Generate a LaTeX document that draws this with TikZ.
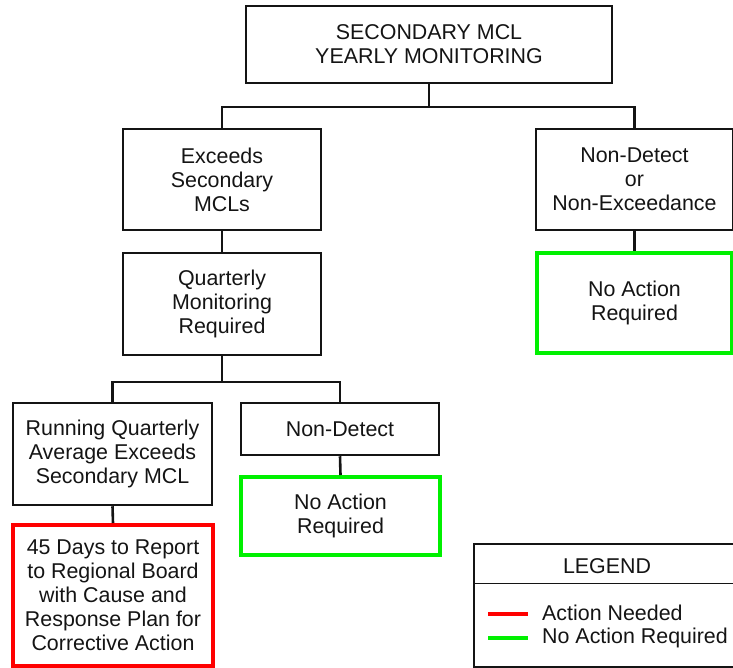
\documentclass[tikz,border=0pt]{standalone}
\usepackage{fontspec}
\setmainfont{Liberation Sans}
\definecolor{actred}{RGB}{255,0,0}
\definecolor{okgreen}{RGB}{0,240,0}
\definecolor{inkc}{RGB}{20,20,20}
\begin{document}
\begin{tikzpicture}[x=1pt,y=-1pt,
  txt/.style={font=\fontsize{21.4}{24}\selectfont, text=inkc},
  box/.style={txt, draw=inkc, line width=2.5pt, align=center, inner sep=0pt},
  greenbox/.style={box, draw=okgreen, line width=4pt},
  redbox/.style={box, draw=actred, line width=4pt},
  conn/.style={draw=inkc, line width=2.6pt, line join=miter}]
\useasboundingbox (0,0) rectangle (733,668);
\clip (0,0) rectangle (733,668);
% boxes
\node[box, minimum width=366, minimum height=77] (top) at (429,44.5) {SECONDARY MCL\\YEARLY MONITORING};
\node[box, minimum width=198, minimum height=101] (exc) at (222,179.5) {Exceeds\\Secondary\\MCLs};
\node[box, minimum width=198, minimum height=102] (qmr) at (222,304) {Quarterly\\Monitoring\\Required};
\node[box, minimum width=197, minimum height=101] (nde) at (634.5,179.5) {Non-Detect\\or\\Non-Exceedance};
\node[greenbox, minimum width=195, minimum height=100] (nar1) at (634.5,303) {No Action\\Required};
\node[box, minimum width=199, minimum height=102] (run) at (112.5,454) {Running Quarterly\\Average Exceeds\\Secondary MCL};
\node[box, minimum width=198, minimum height=52] (nd2) at (340,429) {Non-Detect};
\node[greenbox, minimum width=199, minimum height=78] (nar2) at (340.5,516) {No Action\\Required};
\node[redbox, minimum width=200, minimum height=141] (red) at (113,595.5) {45 Days to Report\\to Regional Board\\with Cause and\\Response Plan for\\Corrective Action};
% connectors
\coordinate (bus1) at (0,107);
\coordinate (bus2) at (0,382);
\draw[conn] (top.south) -- (top.south |- bus1);
\draw[conn] (exc.north) -- (exc.north |- bus1) -- (nde.north |- bus1) -- (nde.north);
\draw[conn] (exc.south) -- (qmr.north);
\draw[conn] (nde.south) -- (nar1.north);
\draw[conn] (qmr.south) -- (qmr.south |- bus2);
\draw[conn] (run.north) -- (run.north |- bus2) -- (nd2.north |- bus2) -- (nd2.north);
\draw[conn] (run.south) -- (red.north);
\draw[conn] (nd2.south) -- (nar2.north);
% legend
\node[draw=inkc, line width=2pt, minimum width=267, minimum height=123, anchor=north west, inner sep=0pt] (leg) at (473,543) {};
\node[txt] (legt) at (607,566) {LEGEND};
\coordinate (div) at (0,583);
\draw[draw=inkc, line width=1pt] (leg.west |- div) -- (leg.east |- div);
\coordinate (r1) at (488,614);
\coordinate (r2) at (528,614);
\coordinate (g1) at (488,638);
\coordinate (g2) at (528,638);
\draw[actred, line width=4pt] (r1) -- (r2);
\draw[okgreen, line width=4pt] (g1) -- (g2);
\node[txt, anchor=base west, inner sep=0pt] (l1) at (542,620) {Action Needed};
\node[txt, anchor=base west, inner sep=0pt] (l2) at (542,643) {No Action Required};
\end{tikzpicture}
\end{document}
